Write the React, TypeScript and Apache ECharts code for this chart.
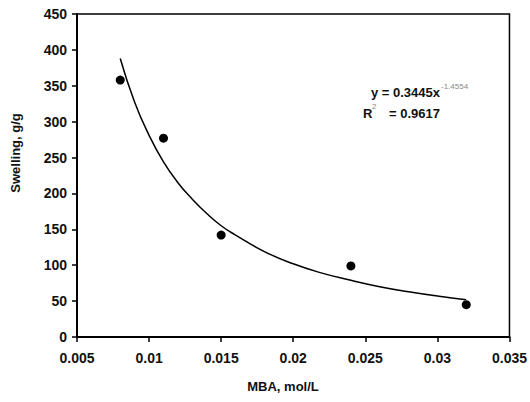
import React, { useEffect, useRef } from "react";
import * as echarts from "echarts";

const mbaConc = [0.008, 0.011, 0.015, 0.024, 0.032];
const swelling = [358, 277, 142, 99, 45];

const trendX = [0.008, 0.009, 0.01, 0.011, 0.012, 0.013, 0.014, 0.015, 0.016, 0.018, 0.02, 0.022, 0.024, 0.026, 0.028, 0.03, 0.032];
const trendY = [388, 327, 281, 244, 215, 192, 172, 155, 142, 119, 102, 89, 79, 70, 63, 57, 52];

const xTickLabels = ["0.005", "0.01", "0.015", "0.02", "0.025", "0.03", "0.035"];
const yTickLabels = ["0", "50", "100", "150", "200", "250", "300", "350", "400", "450"];

const FONT = "'Liberation Sans', Arial, sans-serif";

export default function App() {
  const ref = useRef<HTMLDivElement>(null);
  useEffect(() => {
    if (!ref.current) return;
    const chart = echarts.init(ref.current, null, { renderer: "svg" });
    const txt = { fontFamily: FONT, fontSize: 14, fontWeight: "bold" as const, color: "#111" };
    chart.setOption({
      animation: false,
      backgroundColor: "#fff",
      grid: { left: 77, right: 17, top: 14, bottom: 65, show: true, borderColor: "#000", borderWidth: 1.5, containLabel: false },
      xAxis: {
        type: "value",
        min: 0.005,
        max: 0.035,
        interval: 0.005,
        splitLine: { show: false },
        axisLine: { lineStyle: { color: "#000", width: 2 } },
        axisTick: { show: true, inside: false, length: 5, lineStyle: { color: "#000", width: 1.5 } },
        axisLabel: {
          ...txt,
          margin: 14,
          formatter: (v: number) => {
            const idx = Math.round((v - 0.005) / 0.005);
            return xTickLabels[idx] ?? "";
          },
        },
      },
      yAxis: {
        type: "value",
        min: 0,
        max: 450,
        interval: 50,
        splitLine: { show: false },
        axisLine: { show: true, lineStyle: { color: "#000", width: 2 } },
        axisTick: { show: true, inside: false, length: 5, lineStyle: { color: "#000", width: 1.5 } },
        axisLabel: {
          ...txt,
          margin: 10,
          formatter: (v: number) => yTickLabels[Math.round(v / 50)] ?? "",
        },
      },
      series: [
        {
          type: "line",
          data: trendX.map((x, i) => [x, trendY[i]]),
          smooth: true,
          showSymbol: false,
          lineStyle: { color: "#000", width: 1.5 },
          z: 2,
        },
        {
          type: "scatter",
          data: mbaConc.map((x, i) => [x, swelling[i]]),
          symbol: "circle",
          symbolSize: 9,
          itemStyle: { color: "#000", opacity: 1 },
          z: 3,
        },
      ],
      graphic: [
        {
          type: "text",
          x: 15,
          y: 153,
          rotation: Math.PI / 2,
          style: { text: "Swelling, g/g", fill: "#111", textAlign: "center", textVerticalAlign: "middle", font: `bold 13px ${FONT}` },
        },
        {
          type: "text",
          x: 283,
          y: 386,
          style: { text: "MBA, mol/L", fill: "#111", textAlign: "center", textVerticalAlign: "middle", font: `bold 13px ${FONT}` },
        },
        {
          type: "text",
          x: 440,
          y: 92,
          style: { text: "y = 0.3445x", fill: "#111", textAlign: "right", textVerticalAlign: "middle", font: `bold 13px ${FONT}` },
        },
        {
          type: "text",
          x: 441,
          y: 86,
          style: { text: "-1.4554", fill: "#888", textAlign: "left", textVerticalAlign: "middle", font: `8px ${FONT}` },
        },
        {
          type: "text",
          x: 363,
          y: 113,
          style: { text: "R", fill: "#111", textAlign: "left", textVerticalAlign: "middle", font: `bold 13px ${FONT}` },
        },
        {
          type: "text",
          x: 372,
          y: 106,
          style: { text: "2", fill: "#888", textAlign: "left", textVerticalAlign: "middle", font: `8px ${FONT}` },
        },
        {
          type: "text",
          x: 440,
          y: 113,
          style: { text: "= 0.9617", fill: "#111", textAlign: "right", textVerticalAlign: "middle", font: `bold 13px ${FONT}` },
        },
      ],
    });
    return () => chart.dispose();
  }, []);
  return <div ref={ref} style={{ width: 530, height: 402, position: "absolute", left: 0, top: 0 }} />;
}
